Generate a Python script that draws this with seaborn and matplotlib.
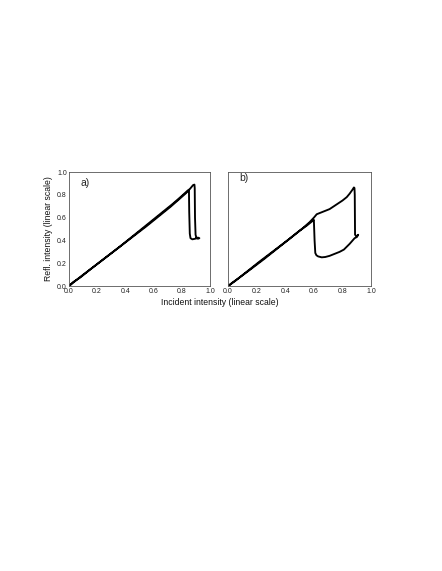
import matplotlib
matplotlib.use("Agg")
import matplotlib.pyplot as plt
import seaborn as sns
from matplotlib.ticker import MultipleLocator, FormatStrFormatter

# panel a) hysteresis loop (up branch, drop, back, jump, down)
a_x = [0.0, 0.03, 0.08, 0.15, 0.25, 0.35, 0.45, 0.55, 0.65, 0.72, 0.78, 0.83,
       0.86, 0.88, 0.89, 0.892, 0.894, 0.898, 0.905, 0.915, 0.925, 0.915,
       0.895, 0.875, 0.862, 0.857, 0.853, 0.851, 0.84, 0.8, 0.74, 0.66,
       0.56, 0.46, 0.36, 0.26, 0.16, 0.08, 0.02, 0.0]
a_y = [0.0, 0.035, 0.075, 0.145, 0.24, 0.335, 0.43, 0.525, 0.625, 0.695, 0.76,
       0.815, 0.855, 0.885, 0.89, 0.86, 0.6, 0.45, 0.42, 0.415, 0.42, 0.425,
       0.415, 0.41, 0.42, 0.46, 0.65, 0.845, 0.835, 0.79, 0.725, 0.645,
       0.545, 0.445, 0.345, 0.25, 0.155, 0.08, 0.02, 0.0]

# panel b)
b_x = [0.0, 0.03, 0.08, 0.15, 0.25, 0.35, 0.45, 0.52, 0.57, 0.6, 0.62, 0.65,
       0.68, 0.71, 0.74, 0.77, 0.8, 0.83, 0.85, 0.87, 0.88, 0.884, 0.886,
       0.888, 0.9, 0.91, 0.9, 0.885, 0.85, 0.81, 0.78, 0.74, 0.71, 0.68,
       0.655, 0.63, 0.618, 0.61, 0.605, 0.6, 0.59, 0.55, 0.5, 0.42, 0.32,
       0.22, 0.12, 0.05, 0.0]
b_y = [0.0, 0.03, 0.075, 0.14, 0.235, 0.335, 0.435, 0.505, 0.56, 0.6, 0.63,
       0.645, 0.66, 0.675, 0.7, 0.725, 0.75, 0.78, 0.81, 0.845, 0.865, 0.86,
       0.8, 0.45, 0.435, 0.45, 0.43, 0.42, 0.37, 0.32, 0.3, 0.28, 0.265,
       0.255, 0.252, 0.26, 0.27, 0.29, 0.4, 0.58, 0.57, 0.53, 0.485, 0.405,
       0.31, 0.215, 0.115, 0.045, 0.0]

panel_tags = ["a)", "b)"]

sns.set_style("white")
plt.rcParams["font.family"] = ["Liberation Sans", "DejaVu Sans"]

fig = plt.figure(figsize=(4.42, 5.71), dpi=100)
ax_a = fig.add_axes([0.156, 0.499, 0.319, 0.1997])
ax_b = fig.add_axes([0.516, 0.499, 0.3235, 0.1997])

for ax, xs, ys in [(ax_a, a_x, a_y), (ax_b, b_x, b_y)]:
    sns.lineplot(x=xs, y=ys, sort=False, estimator=None, color="black",
                 linewidth=1.35, ax=ax)
    ax.set_xlim(0, 1.0)
    ax.set_ylim(0, 1.0)
    ax.xaxis.set_major_locator(MultipleLocator(0.2))
    ax.yaxis.set_major_locator(MultipleLocator(0.2))
    ax.xaxis.set_minor_locator(MultipleLocator(0.1))
    ax.yaxis.set_minor_locator(MultipleLocator(0.1))
    ax.tick_params(which="both", direction="in", color="#444444", width=0.5,
                   labelsize=5, pad=1.5, labelcolor="#222222")
    ax.tick_params(which="major", length=2.5)
    ax.tick_params(which="minor", length=1.5)
    ax.xaxis.set_major_formatter(FormatStrFormatter("%.1f"))
    ax.yaxis.set_major_formatter(FormatStrFormatter("%.1f"))
    for sp in ax.spines.values():
        sp.set_color("#555555")
        sp.set_linewidth(0.6)
    ax.grid(False)

ax_a.text(0.08, 0.9, panel_tags[0], transform=ax_a.transAxes, fontsize=7.5, va="center")
ax_b.text(0.08, 0.95, panel_tags[1], transform=ax_b.transAxes, fontsize=7.5, va="center")
ax_b.tick_params(axis="y", labelleft=False)

ax_a.set_ylabel("Refl. intensity (linear scale)", fontsize=6.2, labelpad=3,
                color="#111111")
fig.text(0.498, 0.471, "Incident intensity (linear scale)", ha="center",
         va="center", fontsize=6.2, color="#111111")

fig.savefig("out.png", dpi=100)
